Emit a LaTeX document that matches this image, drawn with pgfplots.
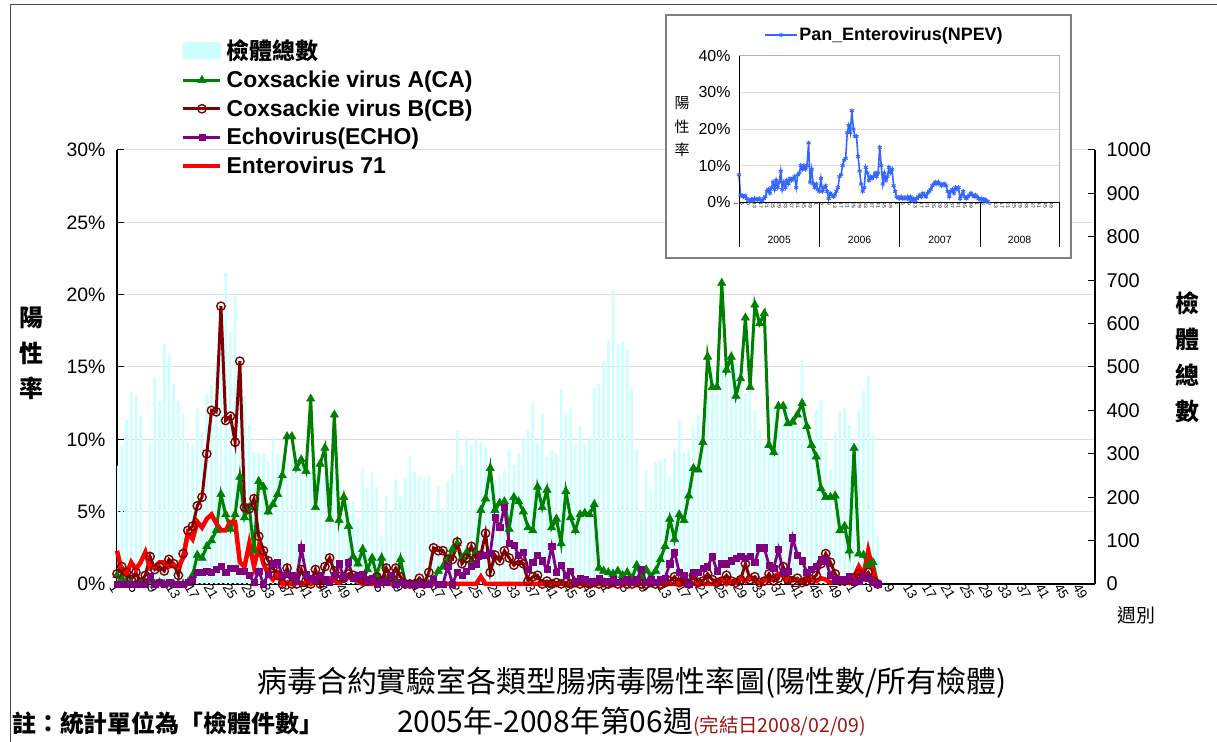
\documentclass[border=0pt]{standalone}
\usepackage{fontspec}
\setmainfont{Liberation Sans}
\newfontfamily\cjk{Noto Sans CJK TC}
\usepackage{pgfplots}
\pgfplotsset{compat=1.18}
\usepackage{pgfplotstable}

\definecolor{barc}{RGB}{204,255,255}
\definecolor{cac}{RGB}{0,128,0}
\definecolor{cbc}{RGB}{128,0,0}
\definecolor{ecc}{RGB}{128,0,128}
\definecolor{evc}{RGB}{255,0,0}
\definecolor{npc}{RGB}{51,102,255}
\definecolor{gridc}{RGB}{220,220,220}
\definecolor{datec}{RGB}{160,20,20}

\pgfplotsset{/pgf/number format/assume math mode=true,
  mainax/.style={at={(117bp,158bp)}, anchor=south west, scale only axis,
    width=978bp, height=434bp, xmin=0, xmax=207}}

\pgfplotstableread{
i ca cb ec ev tot np
0 0.6 0.7 0 2.3 272 7.5
1 0.4 1.2 0 0.9 320 2.0
2 0.2 0.8 0 0.7 379 1.8
3 0.1 0.3 0 1.5 442 1.5
4 0 0.8 0 1.0 435 1.8
5 0.1 0.1 0 1.5 386 1.0
6 0 0.6 0 2.2 70 0.5
7 0.2 1.9 0.5 1.1 323 0.3
8 0 1.0 0 1.2 476 0.8
9 0.1 1.2 0.1 1.5 420 0.5
10 0 0.9 0 1.5 553 1.0
11 0 1.7 0.1 1.2 528 0.8
12 0 1.4 0 1.3 462 0.7
13 0 0.6 0 1.2 422 1.0
14 0 2.1 0 1.8 392 0.6
15 0.1 3.7 0.1 3.5 328 0.5
16 0.6 4.0 0.3 3.1 324 1.0
17 2.0 5.4 0.8 4.3 406 1.5
18 1.8 6.0 0.8 3.9 350 3.0
19 2.6 9.0 0.9 4.5 441 3.5
20 3.0 12.0 0.8 4.8 457 2.5
21 3.7 11.9 1.0 4.2 510 4.0
22 6.2 19.2 1.2 3.7 560 5.5
23 4.8 11.3 0.8 3.7 716 3.5
24 3.8 11.6 1.1 4.3 581 6.0
25 4.8 9.8 1.1 4.3 664 4.0
26 7.4 15.4 0.9 1.5 485 5.5
27 4.6 5.3 0.9 1.2 433 8.5
28 5.3 5.2 0.6 2.8 366 3.5
29 2.3 5.9 0.1 1.2 303 5.5
30 7.1 3.3 0.9 2.6 303 4.0
31 6.7 2.3 0.0 1.4 300 6.0
32 5.0 1.6 0.7 0.7 282 5.0
33 5.5 1.1 1.4 0.3 336 6.5
34 6.2 0.6 1.5 0.7 300 6.0
35 7.5 0.0 0.6 0 295 6.5
36 10.2 1.1 0.7 0.1 280 7.0
37 10.2 0 0.6 0 290 4.0
38 8.0 0 0.2 0.2 300 7.5
39 8.6 1.0 2.5 0 270 8.0
40 7.8 0.2 0.7 0.1 285 10.0
41 12.8 0 0.4 0 260 9.0
42 5.3 1.0 0.3 0.2 275 10.0
43 8.3 0 0.6 0.4 255 9.0
44 9.4 1.2 0.3 0.3 245 10.0
45 4.5 1.8 0.1 0.4 260 16.2
46 11.7 0.9 0.6 0.2 247 5.5
47 4.4 0.5 1.4 0.1 230 9.0
48 6.0 0.4 0.5 0.3 155 5.0
49 4.0 0.7 1.5 0.5 186 4.0
50 1.9 0.6 0.4 0.3 190 5.0
51 1.4 0.5 0.5 0.2 150 3.5
52 2.4 0.3 0.7 0 266 3.0
53 1.0 0.2 0.2 0 221 6.5
54 1.8 0.3 0.4 0 257 3.0
55 0.6 0.5 0 0 223 4.0
56 1.8 0.2 0.2 0 110 4.5
57 0.1 1.1 0.1 0 200 3.0
58 0.3 0.5 0.6 0 164 1.0
59 0 1.1 0 0 241 2.5
60 1.7 0.5 0.1 0 203 2.0
61 0.1 0 0 0 243 1.5
62 0 0 0 0 295 2.0
63 0 0 0 0 259 3.0
64 0 0.4 0 0 249 4.0
65 0 0 0 0 243 7.0
66 0 0.8 0 0 249 7.5
67 0.3 2.5 0.3 0 164 10.0
68 0.9 2.3 0 0 226 11.5
69 1.2 2.3 0 0 174 12.0
70 1.7 1.7 1.2 0 236 19.0
71 2.4 1.7 0 0 253 21.0
72 2.8 2.9 0.8 0 352 19.0
73 1.8 1.4 0.6 0 274 25.0
74 2.2 1.8 0.9 0 338 20.0
75 1.6 2.6 1.2 0 320 18.0
76 2.2 1.8 1.4 0 338 18.0
77 5.1 2.0 2.0 0.5 328 12.5
78 5.9 3.5 2.0 0 315 8.5
79 8.0 0.8 2.1 0 240 5.0
80 5.1 2.0 4.6 0 240 3.0
81 5.6 1.6 3.9 0 250 4.0
82 5.7 2.3 5.3 0 261 9.5
83 3.8 1.8 2.8 0 310 8.0
84 6.0 1.3 2.7 0 274 6.0
85 5.7 1.6 2.0 0 300 7.0
86 5.0 1.4 2.2 0 332 6.5
87 3.9 0.2 1.0 0 355 7.0
88 3.7 0.5 1.5 0 415 8.0
89 6.7 0.6 2.0 0 324 7.0
90 5.3 0 1.6 0 393 8.0
91 6.5 0.2 1.0 0 293 15.0
92 3.9 0 2.6 0 308 10.0
93 4.5 0.1 0.8 0 300 5.0
94 2.8 0 1.3 0 449 8.0
95 6.4 0.1 0.6 0 389 6.0
96 4.6 0 0.9 0 405 7.0
97 3.7 0.1 0.2 0 324 9.5
98 4.8 0 0.4 0 366 8.0
99 4.9 0.1 0.3 0 324 9.0
100 4.8 0 0.2 0 336 4.5
101 5.5 0.1 0.2 0 451 3.0
102 1.1 0 0.4 0 461 1.5
103 0.9 0.1 0.2 0 514 1.2
104 0.8 0 0.2 0 562 1.0
105 0.7 0.1 0.3 0 679 1.5
106 0.9 0 0.1 0 552 1.0
107 0.6 0.1 0.2 0 560 1.2
108 0.8 0 0.3 0 541 1.0
109 0.4 0 0.1 0 455 1.5
110 1.3 0.1 0.3 0 309 0.8
111 0.4 0 1.0 0 163 1.5
112 1.0 0 0.1 0 260 0.5
113 0.5 0.1 0.3 0 220 1.0
114 0.9 0 0.1 0 280 0.5
115 1.7 0 0.3 0 286 1.0
116 2.6 0.1 0.4 0 290 1.5
117 4.5 0.2 1.4 0 245 2.0
118 3.1 0.5 2.2 0 309 1.5
119 4.8 0.1 0.8 0 378 2.5
120 4.4 0.3 0.6 0 301 2.0
121 6.1 0 0.0 0 309 1.5
122 8.0 0.6 0.8 0 362 2.5
123 7.9 0.1 0.8 0 392 3.0
124 9.8 0.2 1.1 0 370 3.5
125 15.7 0.7 1.2 0 432 4.5
126 13.6 0.3 1.9 0 501 5.0
127 13.6 0.1 0.9 0 440 5.5
128 20.8 0.2 1.4 0.3 501 5.0
129 14.8 0.6 1.4 0 482 5.5
130 15.7 0.2 1.6 0.2 525 5.0
131 13.0 0.1 1.8 0.1 509 4.5
132 14.2 0.3 1.9 0.4 470 5.0
133 18.4 1.4 1.8 0.2 440 5.0
134 13.6 0.3 1.9 0.5 486 4.5
135 19.3 0.5 1.5 0.2 401 3.0
136 18.0 0.1 2.5 0.1 355 1.5
137 18.7 0.2 2.5 0.3 320 3.0
138 9.6 0.7 1.3 0.2 332 3.5
139 9.1 0.2 1.1 0.5 409 2.5
140 12.3 0.4 2.4 0.7 355 4.0
141 12.3 1.2 0.8 0.6 378 3.5
142 11.1 0.3 0.9 0.2 417 4.0
143 11.2 0.2 3.2 0.4 386 1.0
144 11.7 0.4 2.0 0.3 363 2.0
145 12.5 0.1 1.6 0.2 516 3.0
146 10.9 0.2 0.8 0.5 363 1.5
147 9.6 0.3 1.0 0.3 340 1.0
148 8.8 0.6 1.2 0.2 401 1.5
149 6.6 1.4 1.7 0.4 424 2.0
150 6.0 2.1 1.6 0.3 330 2.5
151 6.0 1.5 0.6 0.1 265 2.0
152 6.1 0.7 0.3 0.2 351 1.5
153 3.7 0.2 0.3 0.2 397 2.0
154 4.0 0.2 0.3 0.3 405 1.5
155 2.3 0.3 0.5 0.1 366 1.0
156 9.4 0.4 0.1 0.5 259 0.8
157 2.1 0.7 0.2 1.2 400 1.0
158 2.0 0.5 0.5 0.6 445 0.5
159 1.3 0.8 0.4 2.3 480 0.8
160 1.5 0.2 0.1 0.9 345 0.3
161 0 0 0 0 110 0.2
}\data

\begin{document}
\begin{tikzpicture}[x=1bp,y=1bp]
\path[use as bounding box] (0,0) rectangle (1217,742);
\draw[black!70, line width=1bp] (10,0) -- (10,737) -- (1217,737);

% ---------- axis A: grid, left axis, x labels
\begin{axis}[mainax, ymin=0, ymax=30,
  axis x line*=bottom, axis y line*=left,
  xtick={0,4,...,204},
  xticklabels={1,5,9,13,17,21,25,29,33,37,41,45,49,1,5,9,13,17,21,25,29,33,37,41,45,49,1,5,9,13,17,21,25,29,33,37,41,45,49,1,5,9,13,17,21,25,29,33,37,41,45,49},
  xticklabel style={font=\fontsize{13.5}{13.5}\selectfont, rotate=-60, anchor=west, inner sep=0.5bp, xshift=-2bp, yshift=-4bp},
  x tick style={draw=none},
  ytick={0,5,...,30}, yticklabel={\pgfmathprintnumber{\tick}\%},
  yticklabel style={font=\fontsize{19.5}{20}\selectfont, xshift=-8bp},
  ymajorgrids, grid style={gridc, line width=1bp},
  tick align=inside, major tick length=7bp,
  y tick style={black, line width=1bp},
  axis line style={black, line width=1.2bp}]
\addplot[draw=none, forget plot] coordinates {(0,0)};
\pgfplotsinvokeforeach{0,52,104,156,207}{\draw[black, line width=1bp] (axis cs:#1,0) -- ++(0bp,-74bp);}
\node[font=\fontsize{16}{16}\selectfont, yshift=-64bp] at (axis cs:26,0) {2005};
\node[font=\fontsize{16}{16}\selectfont, yshift=-64bp] at (axis cs:78,0) {2006};
\node[font=\fontsize{16}{16}\selectfont, yshift=-64bp] at (axis cs:130,0) {2007};
\node[font=\fontsize{16}{16}\selectfont, yshift=-64bp] at (axis cs:181.5,0) {2008};
\end{axis}

% ---------- axis B: bars, right axis
\begin{axis}[mainax, ymin=0, ymax=1000,
  axis x line=none, axis y line*=right,
  ytick={0,100,...,1000},
  yticklabel style={font=\fontsize{20}{20}\selectfont, xshift=8bp, /pgf/number format/1000 sep={}},
  tick align=inside, major tick length=7bp,
  y tick style={black, line width=1bp},
  axis line style={black, line width=1.2bp},
  ybar, bar width=2.6bp]
\addplot[fill=barc, draw=none] table[x=i, y=tot] {\data};
\end{axis}

% ---------- axis C: lines + legend
\begin{axis}[mainax, ymin=0, ymax=30, hide axis, clip=false,
  legend style={at={(0.0624,1.2650)}, anchor=north west, draw=none, fill=none,
    font=\fontsize{23}{23}\selectfont\bfseries, row sep=6.5bp,
    nodes={inner sep=2bp}, column sep=2bp},
  legend cell align=left,
  legend image code/.code={\draw[mark repeat=2,mark phase=2,#1] plot coordinates {(0bp,0bp) (18.5bp,0bp) (37bp,0bp)};}]
\addlegendimage{legend image code/.code={\fill[barc] (0bp,-8bp) rectangle (37bp,8bp);}}
\addlegendentry{{\cjk\bfseries 檢體總數}}
\addplot[cac, line width=3bp, mark=triangle*, mark size=4.8bp, mark options={line width=0.5bp}] table[x=i, y=ca] {\data};
\addlegendentry{Coxsackie virus A(CA)}
\addplot[cbc, line width=3bp, mark=o, mark size=4.2bp, mark options={line width=1.4bp, fill=none}] table[x=i, y=cb] {\data};
\addlegendentry{Coxsackie virus B(CB)}
\addplot[ecc, line width=2.8bp, mark=square*, mark size=3.1bp, mark options={line width=0.5bp}] table[x=i, y=ec] {\data};
\addlegendentry{Echovirus(ECHO)}
\addplot[evc, line width=4.5bp] table[x=i, y=ev] {\data};
\addlegendentry{Enterovirus 71}
\end{axis}

% ---------- axis titles and notes
\node[font={\fontsize{24}{24}\selectfont\cjk\bfseries}] at (31,424) {陽};
\node[font={\fontsize{24}{24}\selectfont\cjk\bfseries}] at (31,389) {性};
\node[font={\fontsize{24}{24}\selectfont\cjk\bfseries}] at (31,354) {率};
\node[font={\fontsize{24}{24}\selectfont\cjk\bfseries}] at (1187,439) {檢};
\node[font={\fontsize{24}{24}\selectfont\cjk\bfseries}] at (1187,403) {體};
\node[font={\fontsize{24}{24}\selectfont\cjk\bfseries}] at (1187,367) {總};
\node[font={\fontsize{24}{24}\selectfont\cjk\bfseries}] at (1187,331) {數};
\node[font={\fontsize{19}{19}\selectfont\cjk}] at (1136,127) {週別};
\node[font={\fontsize{30}{30}\selectfont\cjk}] at (632,59) {病毒合約實驗室各類型腸病毒陽性率圖(陽性數/所有檢體)};
\node[anchor=base west, inner sep=0pt] at (397,9) {{\fontsize{30}{30}\selectfont\cjk 2005年-2008年第06週}{\fontsize{19.5}{19.5}\selectfont\cjk\color{datec}(完結日2008/02/09)}};
\node[anchor=base west, inner sep=0pt, font={\fontsize{24}{24}\selectfont\cjk\bfseries}] at (12,9) {註：統計單位為「檢體件數」};

% ---------- inset
\fill[white] (666,484) rectangle (1071,727);
\draw[gray, line width=1.5bp] (666,484) rectangle (1071,727);
\begin{axis}[at={(739bp,539.7bp)}, anchor=south west, scale only axis,
  width=320bp, height=146.6bp, xmin=0, xmax=207, ymin=0, ymax=40,
  ytick={0,10,...,40}, yticklabel={\pgfmathprintnumber{\tick}\%},
  yticklabel style={font=\fontsize{16}{16}\selectfont, xshift=-5bp},
  ymajorgrids, grid style={gridc, line width=0.8bp},
  tick style={draw=none},
  axis line style={gray!60, line width=0.8bp},
  xtick={0,4,...,204},
  xticklabels={1,5,9,13,17,21,25,29,33,37,41,45,49,1,5,9,13,17,21,25,29,33,37,41,45,49,1,5,9,13,17,21,25,29,33,37,41,45,49,1,5,9,13,17,21,25,29,33,37,41,45,49},
  xticklabel style={font=\fontsize{5}{5}\selectfont, rotate=-90, anchor=west, inner sep=0.3bp, yshift=-3bp},
  clip=false,
  legend style={at={(0.069,1.216)}, anchor=north west, draw=none, fill=none,
    font=\fontsize{18}{18}\selectfont\bfseries, nodes={inner sep=1.5bp}},
  legend image code/.code={\draw[mark repeat=2,mark phase=2,#1] plot coordinates {(0bp,0bp) (16bp,0bp) (32bp,0bp)};}]
\addplot[npc, line width=1.6bp, mark=asterisk, mark size=2.4bp, mark options={line width=0.9bp}] table[x=i, y=np] {\data};
\addlegendentry{Pan\_Enterovirus(NPEV)}
\draw[black, line width=1bp] (rel axis cs:0,1) -- (rel axis cs:0,0) -- (rel axis cs:1,0);
\pgfplotsinvokeforeach{0,52,104,156,207}{\draw[black, line width=0.8bp] (axis cs:#1,0) -- ++(0bp,-45bp);}
\node[font=\fontsize{10.5}{10.5}\selectfont, yshift=-38bp] at (axis cs:26,0) {2005};
\node[font=\fontsize{10.5}{10.5}\selectfont, yshift=-38bp] at (axis cs:78,0) {2006};
\node[font=\fontsize{10.5}{10.5}\selectfont, yshift=-38bp] at (axis cs:130,0) {2007};
\node[font=\fontsize{10.5}{10.5}\selectfont, yshift=-38bp] at (axis cs:181.5,0) {2008};
\end{axis}
\node[font={\fontsize{15}{15}\selectfont\cjk}] at (682,639) {陽};
\node[font={\fontsize{15}{15}\selectfont\cjk}] at (682,615) {性};
\node[font={\fontsize{15}{15}\selectfont\cjk}] at (682,592) {率};
\end{tikzpicture}
\end{document}
